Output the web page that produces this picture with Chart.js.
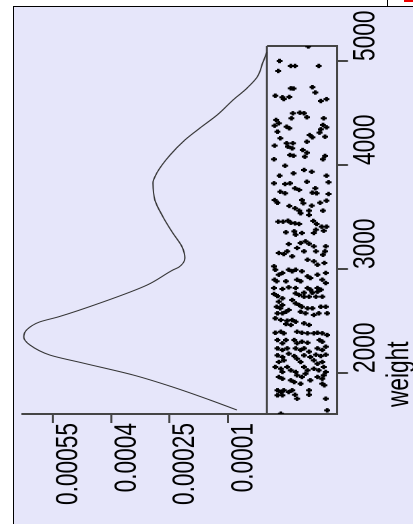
<!DOCTYPE html>
<html>
<head>
<meta charset="utf-8">
<script src="https://cdn.jsdelivr.net/npm/chart.js@4.4.1/dist/chart.umd.min.js"></script>
<style>
html,body{margin:0;padding:0;background:#fff;width:413px;height:524px;overflow:hidden;}
#panel{position:absolute;left:13px;top:6px;width:399px;height:517px;border-left:1px solid #000;border-top:1px solid #000;background:#E6E6FA;}
#wrap{position:absolute;left:14px;top:7px;width:399px;height:517px;overflow:hidden;}
#c{position:absolute;left:0;top:0;transform-origin:0 0;}
#tab{position:absolute;left:387px;top:0;width:26px;height:6px;border-left:1px solid #000;background:#fff;}
#tabmark{position:absolute;left:404px;top:0;width:9px;height:2px;background:#e00;}
</style>
</head>
<body>
<div id="panel"></div>
<div id="tab"></div><div id="tabmark"></div>
<div id="wrap"><canvas id="c" width="517" height="296"></canvas></div>
<script>
// ---- data ----
const weightTicks = [2000, 3000, 4000, 5000];
const densityTicks = [0.0001, 0.00025, 0.0004, 0.00055];
const weightTitle = 'weight';

// kernel density curve of weight
const curveWeight = [1644, 1740, 1865, 1981, 2096, 2173, 2269, 2346, 2413, 2490, 2541, 2673, 2846, 2990, 3019, 3106, 3211, 3346, 3500, 3663, 3827, 3923, 4096, 4240, 4356, 4481, 4625, 4740, 4846, 4990, 5086];
const curveDensity = [0.000077, 0.000146, 0.000242, 0.000344, 0.000473, 0.000558, 0.000609, 0.000625, 0.000618, 0.000585, 0.000535, 0.000429, 0.000308, 0.000242, 0.000226, 0.000211, 0.000218, 0.000242, 0.000267, 0.000288, 0.000293, 0.000283, 0.000249, 0.000211, 0.000172, 0.000128, 0.000087, 0.000051, 0.000025, 0.000010, 0.0];

// jittered strip of observed weights (jitter = 0..1 across the strip)
const stripWeight = [
5140,5000,4904,4952,4952,4952,4737,4735,4748,4697,4666,4651,4634,4654,4615,4633,
4497,4503,4497,4449,4459,4433,4401,4378,4368,4353,4449,4385,4343,4311,4362,4288,4266,4320,4272,4257,4186,4209,4209,4224,4176,4160,4144,4118,4080,4096,4089,4087,4055,4055,3993,3952,3935,3897,3920,3897,3834,3824,3817,3824,3776,3760,3839,3776,3734,3728,3743,3728,3721,3663,3637,3663,3632,3657,3606,3584,3609,3637,3561,3536,3561,3519,3561,3455,3455,3464,3445,3439,3433,3462,3433,3407,3407,
3353,3362,3346,3378,3346,3368,3330,3240,3250,3266,3243,3218,3202,3170,3144,3154,3170,3170,3218,3170,3137,3122,3089,3074,3041,3058,3026,2993,2993,2978,2993,2962,2945,2978,2930,2913,2945,2962,2897,2882,2882,2897,2882,2897,2865,2817,2824,2817,2817,2801,2817,2801,2808,
2760,2740,2766,2750,2772,2772,2782,2718,2686,2702,2734,2734,2734,2734,2637,2622,2654,2670,2654,2637,2622,2622,2637,2637,2574,2574,2589,2606,2589,2574,2558,2574,2574,2526,2510,2503,2510,2493,2471,2462,2478,2462,2387,2397,2382,2397,2387,2382,2382,2387,2382,2365,2317,2286,2317,2317,2286,2301,2291,2317,2301,2237,2221,2237,2237,2221,2237,2205,2237,2221,2253,
2170,2154,2186,2163,2170,2154,2176,2163,2176,2106,2122,2137,2106,2122,2089,2106,2058,2041,2010,2058,2026,2010,2058,2026,2041,2026,2058,2010,1962,1945,1978,1962,1993,1962,1945,1978,1930,1913,1930,1897,1897,1882,1834,1817,1834,1817,1834,1786,1786,1791,1834,1791,1753,1753,1641,1609
];
const stripJitter = [
0.59,0.18,0.16,0.34,0.40,0.74,0.34,0.38,0.65,0.69,0.12,0.22,0.24,0.32,0.77,0.85,
0.37,0.47,0.53,0.35,0.57,0.13,0.17,0.11,0.28,0.32,0.81,0.80,0.77,0.75,0.85,0.61,0.65,0.15,0.83,0.19,0.11,0.28,0.37,0.57,0.30,0.36,0.51,0.57,0.54,0.33,0.38,0.83,0.80,0.10,0.26,0.53,0.64,0.18,0.38,0.85,0.88,0.10,0.26,0.33,0.40,0.46,0.57,0.69,0.65,0.71,0.19,0.26,0.88,0.11,0.15,0.50,0.52,0.85,0.32,0.40,0.64,0.76,0.46,0.48,0.60,0.60,0.80,0.16,0.23,0.30,0.34,0.40,0.46,0.66,0.71,0.78,0.85,
0.27,0.39,0.50,0.70,0.67,0.81,0.41,0.31,0.48,0.55,0.60,0.67,0.43,0.29,0.24,0.17,0.53,0.70,0.84,0.83,0.80,0.36,0.58,0.67,0.72,0.82,0.10,0.12,0.31,0.36,0.41,0.22,0.17,0.50,0.58,0.62,0.72,0.84,0.11,0.14,0.27,0.43,0.48,0.79,0.84,0.10,0.31,0.41,0.58,0.62,0.72,0.77,0.22,
0.10,0.15,0.41,0.46,0.53,0.65,0.72,0.22,0.17,0.36,0.53,0.60,0.70,0.79,0.14,0.19,0.22,0.41,0.46,0.50,0.58,0.65,0.77,0.84,0.15,0.22,0.27,0.31,0.48,0.55,0.67,0.74,0.86,0.12,0.20,0.29,0.36,0.41,0.27,0.34,0.53,0.60,0.12,0.20,0.24,0.43,0.50,0.58,0.67,0.72,0.79,0.86,0.15,0.22,0.27,0.39,0.43,0.50,0.58,0.75,0.79,0.15,0.22,0.29,0.41,0.48,0.53,0.60,0.72,0.79,0.84,
0.15,0.22,0.31,0.39,0.53,0.62,0.70,0.77,0.84,0.17,0.24,0.43,0.48,0.67,0.72,0.79,0.12,0.20,0.22,0.29,0.34,0.41,0.53,0.58,0.67,0.74,0.81,0.84,0.17,0.22,0.43,0.50,0.55,0.72,0.79,0.81,0.34,0.39,0.62,0.48,0.79,0.82,0.15,0.20,0.24,0.31,0.36,0.15,0.22,0.40,0.60,0.60,0.43,0.84,0.86,0.20
];

// axis ranges
const weightMin = 1606, weightMax = 5144;
const densityMin = -0.00018, densityMax = 0.000627;

// ---- layout / styles ----
// the plot is drawn lying down and turned upright; the stretch gives the tall, narrow lettering
const stretch = 399 / 296;
document.getElementById('c').style.transform = 'translate(0,517px) rotate(-90deg) scale(1,' + stretch + ')';
const lineColor = '#454545';
const labelFont = {family: "'Liberation Sans', Arial, sans-serif", size: 22.7, weight: 'normal'};

const stripBox = {
  id: 'stripBox',
  beforeDatasetsDraw(chart) {
    const {ctx, chartArea, scales} = chart;
    const y0 = scales.y.getPixelForValue(0);
    ctx.save();
    ctx.strokeStyle = lineColor;
    ctx.lineWidth = 1.5;
    ctx.beginPath();
    ctx.moveTo(chartArea.left, y0);
    ctx.lineTo(chartArea.right, y0);
    ctx.stroke();
    ctx.lineWidth = 2;
    ctx.beginPath();
    ctx.moveTo(chartArea.right, y0);
    ctx.lineTo(chartArea.right, chartArea.bottom);
    ctx.stroke();
    ctx.restore();
  }
};

// axis title placed just inside the start of the weight axis
const axisTitle = {
  id: 'axisTitle',
  afterDraw(chart) {
    const {ctx} = chart;
    const sx = chart.scales.x;
    const t = chart.options.scales.x.title;
    ctx.save();
    ctx.font = Chart.helpers.toFont(t.font).string;
    ctx.fillStyle = t.color;
    ctx.textAlign = 'left';
    ctx.textBaseline = 'middle';
    ctx.fillText(t.text, sx.left + 7, sx.bottom - 9.8);
    ctx.restore();
  }
};

new Chart(document.getElementById('c'), {
  type: 'scatter',
  data: {
    datasets: [
      {
        data: curveWeight.map((w, i) => ({x: w, y: curveDensity[i]})),
        showLine: true, borderColor: '#333', borderWidth: 1, pointRadius: 0,
        cubicInterpolationMode: 'monotone', clip: false
      },
      {
        data: stripWeight.map((w, i) => ({x: w, y: stripJitter[i] * densityMin})),
        showLine: false, pointStyle: 'cross', pointRadius: 2.2, borderWidth: 2,
        borderColor: '#000', backgroundColor: '#000'
      }
    ]
  },
  options: {
    responsive: false, animation: false, devicePixelRatio: 2,
    layout: {padding: {top: 9 / stretch, right: 39, bottom: 0, left: 0}},
    plugins: {legend: {display: false}, tooltip: {enabled: false}},
    scales: {
      x: {
        type: 'linear', position: 'bottom', min: weightMin, max: weightMax,
        afterBuildTicks: s => { s.ticks = weightTicks.map(v => ({value: v})); },
        afterFit: s => { s.height = 76 / stretch; s.paddingLeft = 0; s.paddingRight = 0; },
        grid: {display: true, drawOnChartArea: false, drawTicks: true, tickLength: 11 / stretch, color: lineColor, lineWidth: 2},
        border: {display: true, color: lineColor, width: 1.5},
        ticks: {align: 'start', padding: 0, color: '#000', font: labelFont, maxRotation: 0, minRotation: 0, autoSkip: false, callback: v => String(v)},
        title: {display: false, text: weightTitle, color: '#000', font: labelFont}
      },
      y: {
        type: 'linear', position: 'left', min: densityMin, max: densityMax,
        afterBuildTicks: s => { s.ticks = densityTicks.map(v => ({value: v})); },
        afterFit: s => { s.width = 110; s.paddingTop = 0; s.paddingBottom = 0; },
        grid: {display: true, drawOnChartArea: false, drawTicks: true, tickLength: 9, color: lineColor, lineWidth: 1.5},
        border: {display: true, color: lineColor, width: 2},
        ticks: {padding: 0, labelOffset: 16 / stretch, color: '#000', font: labelFont, autoSkip: false, callback: v => String(v)}
      }
    }
  },
  plugins: [stripBox, axisTitle]
});
</script>
</body>
</html>
